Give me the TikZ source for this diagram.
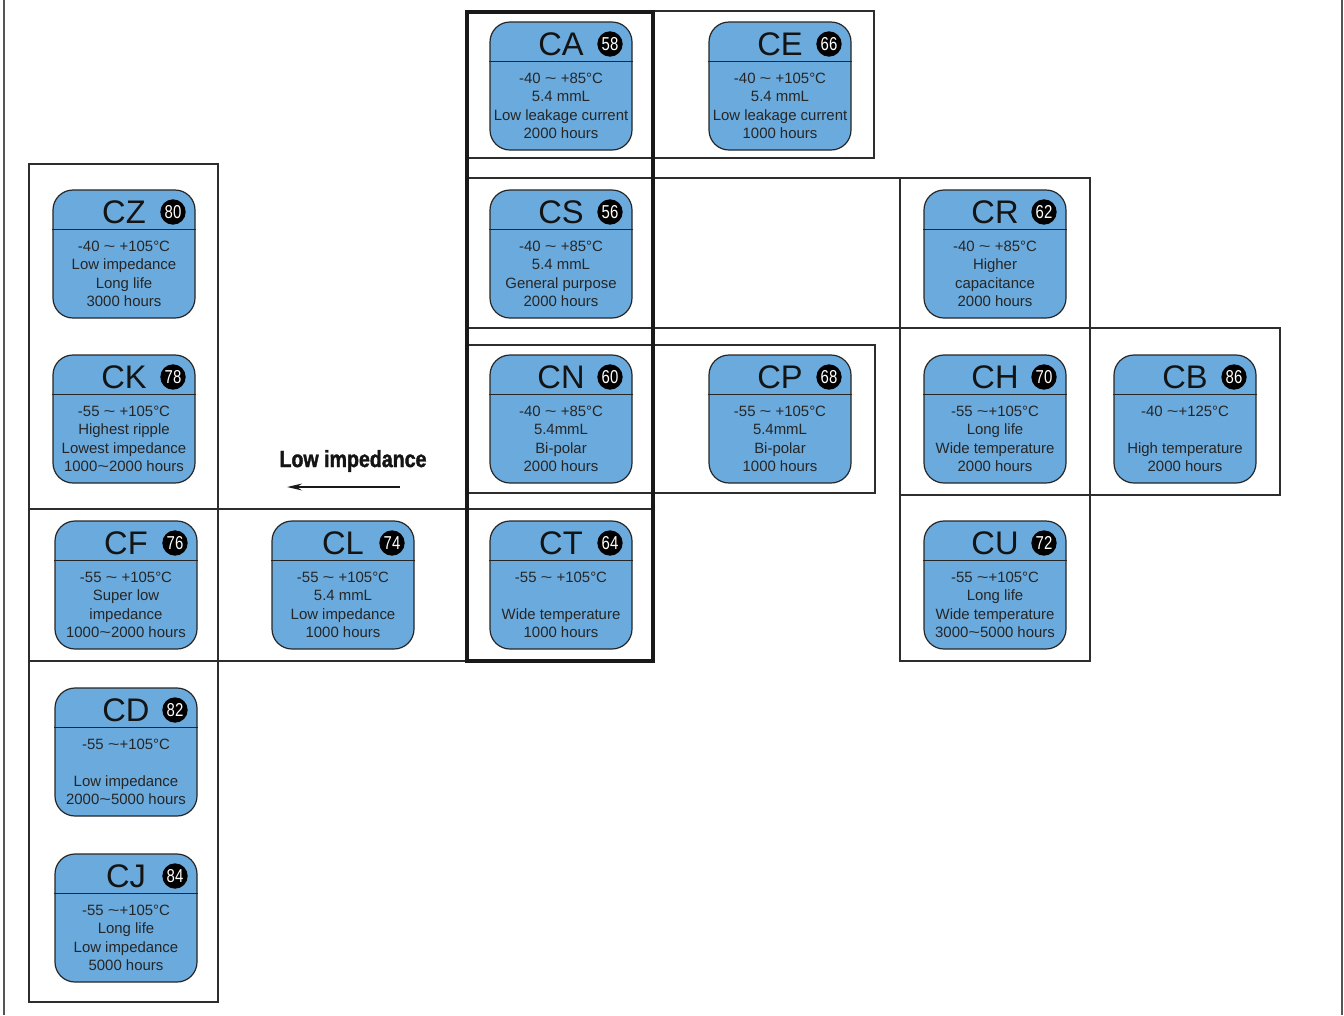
\documentclass[tikz,border=0pt]{standalone}
\usepackage{fontspec}
\usepackage{graphicx}
\setmainfont{Liberation Sans}
\newfontfamily\condfont[FakeStretch=0.8]{Liberation Sans}
\newfontfamily\condboldfont[FakeStretch=0.84,FakeBold=1.6]{Liberation Sans}
\usetikzlibrary{arrows.meta}
\definecolor{cardblue}{RGB}{106,170,221}
\definecolor{gridline}{RGB}{45,45,45}
\definecolor{sideline}{RGB}{85,85,85}
\tikzset{
  cardbox/.style={draw=black!85, line width=0.9pt, fill=cardblue, rounded corners=15pt,
    minimum width=106.5pt, minimum height=96pt, inner sep=0pt},
  cardline/.style={draw=black!85, line width=0.8pt},
  ctitle/.style={anchor=base, inner sep=0pt, text=black!92, font=\fontsize{24.5}{26}\selectfont},
  cnum/.style={circle, fill=black, text=white, minimum size=19pt, inner sep=0pt,
    font=\condfont\fontsize{14}{14}\selectfont},
  cbody/.style={anchor=base, inner sep=0pt, text=black!85, font=\fontsize{11.2}{13}\selectfont},
  gridbox/.style={draw=gridline, line width=0.8pt},
  thickbox/.style={draw=black!90, line width=3pt},
  sidebar/.style={draw=sideline, line width=1.5pt},
}
% name, cx, top, title, number, line1..line4
\newcommand{\card}[9]{%
  \node[cardbox] (#1) at (#2,#3+64) {};
  \draw[cardline] ([yshift=-30pt]#1.north west) -- ([yshift=-30pt]#1.north east);
  \node[ctitle] (#1t) at (#2,#3+33.5) {#4};
  \node[cnum] (#1n) at (#2+49,#3+22) {#5};
  \node[cbody] (#1a) at (#2,#3+61) {#6};
  \node[cbody] (#1b) at (#2,#3+79.5) {#7};
  \node[cbody] (#1c) at (#2,#3+98) {#8};
  \node[cbody] (#1d) at (#2,#3+116.5) {#9};
}
\newcommand{\tl}{\scalebox{1.35}[1]{\textasciitilde}}
\begin{document}
\begin{tikzpicture}[x=0.75pt,y=-0.75pt]
\useasboundingbox (0,0) rectangle (1344,1015);
% side lines
\draw[sidebar] (4,0) -- (4,1015);
\draw[sidebar] (1342,0) -- (1342,1015);
% grid boxes
\draw[gridbox] (29,164) rectangle (218,509);
\draw[gridbox] (29,509) rectangle (653,661);
\draw[gridbox] (218,509) -- (218,661);
\draw[gridbox] (29,661) rectangle (218,1002);
\draw[gridbox] (467,11) rectangle (874,158);
\draw[gridbox] (467,178) rectangle (1090,328);
\draw[gridbox] (900,178) -- (900,328);
\draw[gridbox] (467,345) rectangle (875,493);
\draw[gridbox] (900,328) rectangle (1280,495);
\draw[gridbox] (1090,328) -- (1090,495);
\draw[gridbox] (900,495) rectangle (1090,661);
\draw[thickbox] (467,12) rectangle (653,661);
% cards
\card{CA}{561}{22}{CA}{58}{-40 \tl\ +85°C}{5.4 mmL}{Low leakage current}{2000 hours}
\card{CE}{780}{22}{CE}{66}{-40 \tl\ +105°C}{5.4 mmL}{Low leakage current}{1000 hours}
\card{CZ}{124}{190}{CZ}{80}{-40 \tl\ +105°C}{Low impedance}{Long life}{3000 hours}
\card{CK}{124}{355}{CK}{78}{-55 \tl\ +105°C}{Highest ripple}{Lowest impedance}{1000\tl2000 hours}
\card{CS}{561}{190}{CS}{56}{-40 \tl\ +85°C}{5.4 mmL}{General purpose}{2000 hours}
\card{CR}{995}{190}{CR}{62}{-40 \tl\ +85°C}{Higher}{capacitance}{2000 hours}
\card{CN}{561}{355}{CN}{60}{-40 \tl\ +85°C}{5.4mmL}{Bi-polar}{2000 hours}
\card{CP}{780}{355}{CP}{68}{-55 \tl\ +105°C}{5.4mmL}{Bi-polar}{1000 hours}
\card{CH}{995}{355}{CH}{70}{-55 \tl+105°C}{Long life}{Wide temperature}{2000 hours}
\card{CB}{1185}{355}{CB}{86}{-40 \tl+125°C}{}{High temperature}{2000 hours}
\card{CF}{126}{521}{CF}{76}{-55 \tl\ +105°C}{Super low}{impedance}{1000\tl2000 hours}
\card{CL}{343}{521}{CL}{74}{-55 \tl\ +105°C}{5.4 mmL}{Low impedance}{1000 hours}
\card{CT}{561}{521}{CT}{64}{-55 \tl\ +105°C}{}{Wide temperature}{1000 hours}
\card{CU}{995}{521}{CU}{72}{-55 \tl+105°C}{Long life}{Wide temperature}{3000\tl5000 hours}
\card{CD}{126}{688}{CD}{82}{-55 \tl+105°C}{}{Low impedance}{2000\tl5000 hours}
\card{CJ}{126}{854}{CJ}{84}{-55 \tl+105°C}{Long life}{Low impedance}{5000 hours}
% arrow and label
\node[inner sep=0pt, text=black!92, font=\condboldfont\bfseries\fontsize{17.5}{18}\selectfont] (lowimp) at (353,461) {Low impedance};
\coordinate (arrS) at (400,487);
\coordinate (arrE) at (287,487);
\draw[line width=1.8pt, black!90, -{Stealth[length=11pt,width=5pt]}] (arrS) -- (arrE);
\end{tikzpicture}
\end{document}
